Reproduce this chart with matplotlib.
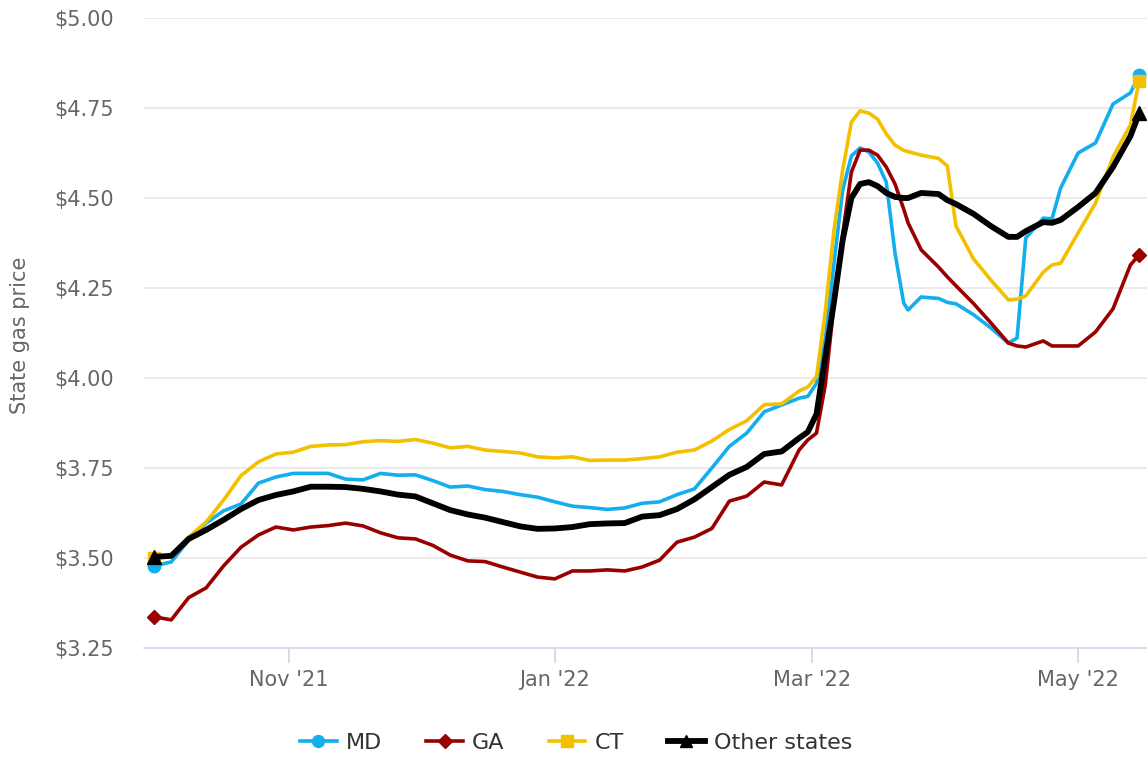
import numpy as np
import pandas as pd
import matplotlib
matplotlib.use('Agg')
import matplotlib.pyplot as plt
from matplotlib.lines import Line2D

day_offsets = [0, 4, 8, 12, 16, 20, 24, 28, 32, 36, 40, 44, 48, 52, 56, 60, 64, 68, 72, 76,
               80, 84, 88, 92, 96, 100, 104, 108, 112, 116, 120, 124, 128, 132, 136, 140, 144, 148,
               150, 152, 154, 156, 158, 160, 162, 164, 166, 168, 170, 172, 173,
               176, 180, 182, 184, 188, 192, 196, 198, 200, 204, 206, 208, 212, 216, 220, 224, 226]

md = [3.478, 3.489, 3.550, 3.597, 3.631, 3.650, 3.708, 3.725, 3.735, 3.735, 3.735, 3.719, 3.717,
      3.735, 3.730, 3.731, 3.715, 3.697, 3.700, 3.690, 3.685, 3.676, 3.669, 3.656, 3.644, 3.640,
      3.635, 3.639, 3.652, 3.656, 3.676, 3.692, 3.750, 3.810, 3.847, 3.906, 3.925, 3.944,
      3.949, 3.985, 4.106, 4.319, 4.522, 4.617, 4.639, 4.628, 4.597, 4.544, 4.347, 4.208, 4.189,
      4.225, 4.221, 4.210, 4.206, 4.176, 4.139, 4.097, 4.111, 4.389, 4.444, 4.442, 4.528, 4.625,
      4.653, 4.761, 4.792, 4.842]

ga = [3.337, 3.328, 3.390, 3.417, 3.478, 3.530, 3.564, 3.586, 3.578, 3.586, 3.590, 3.597, 3.589,
      3.570, 3.556, 3.553, 3.535, 3.508, 3.492, 3.490, 3.475, 3.461, 3.447, 3.442, 3.464, 3.464,
      3.467, 3.464, 3.475, 3.494, 3.544, 3.558, 3.582, 3.658, 3.672, 3.711, 3.703, 3.800,
      3.828, 3.847, 3.980, 4.203, 4.400, 4.572, 4.633, 4.633, 4.619, 4.586, 4.539, 4.469, 4.431,
      4.356, 4.308, 4.281, 4.256, 4.207, 4.153, 4.097, 4.089, 4.086, 4.103, 4.089, 4.089, 4.089,
      4.128, 4.192, 4.314, 4.342]

ct = [3.499, 3.506, 3.558, 3.600, 3.661, 3.729, 3.767, 3.789, 3.794, 3.810, 3.814, 3.815, 3.823,
      3.826, 3.824, 3.829, 3.819, 3.806, 3.810, 3.800, 3.796, 3.792, 3.781, 3.778, 3.781, 3.771,
      3.772, 3.772, 3.776, 3.781, 3.794, 3.800, 3.825, 3.857, 3.881, 3.926, 3.928, 3.964,
      3.975, 4.004, 4.183, 4.411, 4.578, 4.711, 4.742, 4.736, 4.719, 4.678, 4.647, 4.632, 4.629,
      4.619, 4.610, 4.589, 4.422, 4.331, 4.272, 4.217, 4.219, 4.228, 4.294, 4.314, 4.319, 4.403,
      4.486, 4.614, 4.703, 4.825]

other = [3.503, 3.506, 3.553, 3.578, 3.606, 3.636, 3.661, 3.675, 3.685, 3.698, 3.698, 3.697, 3.692,
         3.685, 3.676, 3.671, 3.652, 3.633, 3.621, 3.612, 3.600, 3.588, 3.581, 3.582, 3.586, 3.594,
         3.596, 3.597, 3.615, 3.619, 3.636, 3.663, 3.697, 3.731, 3.753, 3.789, 3.796, 3.833,
         3.850, 3.900, 4.058, 4.211, 4.383, 4.500, 4.539, 4.544, 4.533, 4.514, 4.503, 4.500, 4.500,
         4.514, 4.511, 4.494, 4.483, 4.456, 4.422, 4.392, 4.392, 4.408, 4.433, 4.431, 4.439, 4.475,
         4.514, 4.586, 4.672, 4.735]

tick_dates = ['2021-11-01', '2022-01-01', '2022-03-01', '2022-05-01']
tick_labels = ["Nov '21", "Jan '22", "Mar '22", "May '22"]

start = pd.Timestamp('2021-10-01')
dates = start + pd.to_timedelta(day_offsets, unit='D')

W, H = 1147, 757
fig = plt.figure(figsize=(W / 100, H / 100), dpi=100)
ax = fig.add_axes([144 / W, 1 - 648 / H, 1003 / W, 630 / H])

series = [
    ('MD', md, '#14AEEF', 'o', 2.6, 9),
    ('GA', ga, '#990000', 'D', 2.6, 7.5),
    ('CT', ct, '#F3C000', 's', 2.6, 8.5),
    ('Other states', other, '#000000', '^', 4.2, 9.5),
]

handles = []
for i, (name, vals, color, marker, lw, ms) in enumerate(series):
    ax.plot(dates, vals, color=color, lw=lw, solid_joinstyle='round',
            solid_capstyle='round', zorder=3 + i)
    # markers only at the first and last point
    ax.plot([dates[0], dates[-1]], [vals[0], vals[-1]], ls='none', marker=marker,
            ms=ms, color=color, zorder=3 + i, clip_on=False)
    handles.append(Line2D([], [], color=color, lw=lw, marker=marker, ms=ms * 0.95))

ax.set_xlim(start - pd.Timedelta(days=2.25), start + pd.Timedelta(days=227.8))
ax.set_ylim(3.25, 5.0)
ax.set_yticks(np.arange(3.25, 5.01, 0.25))
ax.yaxis.set_major_formatter(lambda v, p: f'${v:.2f}')
ax.set_xticks(pd.to_datetime(tick_dates))
ax.set_xticklabels(tick_labels)

for side in ['top', 'right', 'left']:
    ax.spines[side].set_visible(False)
ax.spines['bottom'].set_color('#ccd6eb')
ax.spines['bottom'].set_linewidth(1.2)
ax.spines['bottom'].set_zorder(2)

ax.grid(axis='y', color='#e6e6e6', lw=1.2)
ax.set_axisbelow(True)
ax.tick_params(axis='y', length=0, pad=22, labelsize=15, labelcolor='#666666')
ax.tick_params(axis='x', length=11, width=1.2, color='#ccd6eb', pad=5,
               labelsize=15, labelcolor='#666666')

fig.text(20 / W, 1 - 335 / H, 'State gas price', rotation=90, ha='center', va='center',
         fontsize=15, color='#666666')

fig.legend(handles, [s[0] for s in series], loc='center', bbox_to_anchor=(576 / W, 1 - 743 / H),
           ncol=4, frameon=False, fontsize=16, handlelength=1.65, handletextpad=0.4,
           columnspacing=2.0, labelcolor='#333333')

fig.savefig('out.png', dpi=100)
